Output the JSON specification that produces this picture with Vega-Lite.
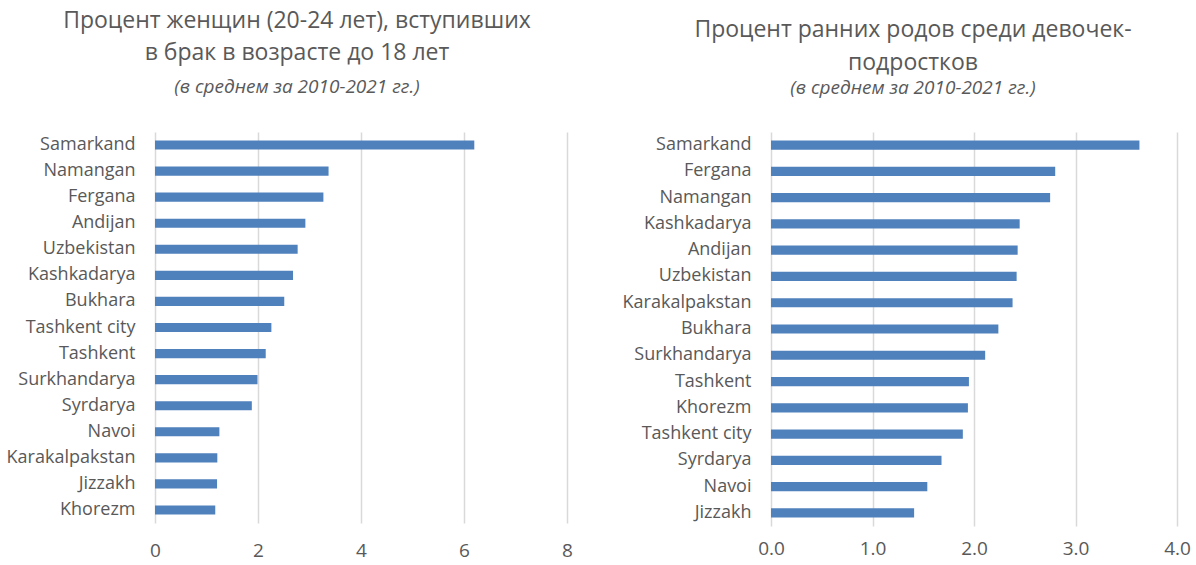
{
  "$schema": "https://vega.github.io/schema/vega-lite/v6.json",
  "padding": {"left": 6, "top": 10, "right": 4, "bottom": 0},
  "background": "white",
  "spacing": 204,
  "bounds": "flush",
  "config": {
    "font": "Open Sans",
    "view": {"stroke": null},
    "axis": {"labelColor": "#595959", "titleColor": "#595959"},
    "title": {"color": "#595959", "subtitleColor": "#595959"}
  },
  "datasets": {
    "marriage": [
      {"region": "Samarkand", "value": 6.20},
      {"region": "Namangan", "value": 3.37},
      {"region": "Fergana", "value": 3.27},
      {"region": "Andijan", "value": 2.92},
      {"region": "Uzbekistan", "value": 2.77},
      {"region": "Kashkadarya", "value": 2.68},
      {"region": "Bukhara", "value": 2.51},
      {"region": "Tashkent city", "value": 2.26},
      {"region": "Tashkent ", "value": 2.15},
      {"region": "Surkhandarya", "value": 1.99},
      {"region": "Syrdarya", "value": 1.88},
      {"region": "Navoi", "value": 1.25},
      {"region": "Karakalpakstan", "value": 1.21},
      {"region": "Jizzakh", "value": 1.205},
      {"region": "Khorezm", "value": 1.17}
    ],
    "births": [
      {"region": "Samarkand", "value": 3.63},
      {"region": "Fergana", "value": 2.80},
      {"region": "Namangan", "value": 2.75},
      {"region": "Kashkadarya", "value": 2.45},
      {"region": "Andijan", "value": 2.43},
      {"region": "Uzbekistan", "value": 2.42},
      {"region": "Karakalpakstan", "value": 2.38},
      {"region": "Bukhara", "value": 2.24},
      {"region": "Surkhandarya", "value": 2.11},
      {"region": "Tashkent ", "value": 1.95},
      {"region": "Khorezm", "value": 1.94},
      {"region": "Tashkent city", "value": 1.89},
      {"region": "Syrdarya", "value": 1.68},
      {"region": "Navoi", "value": 1.54},
      {"region": "Jizzakh", "value": 1.41}
    ]
  },
  "hconcat": [
    {
      "data": {"name": "marriage"},
      "width": 412,
      "height": 391,
      "title": {
        "text": ["Процент женщин (20-24 лет), вступивших", "в брак в возрасте до 18 лет"],
        "subtitle": "(в среднем за 2010-2021 гг.)",
        "fontSize": 23,
        "fontWeight": "normal",
        "lineHeight": 32,
        "subtitleFontSize": 19,
        "subtitleFontStyle": "italic",
        "subtitlePadding": 13,
        "offset": 35,
        "dx": -64,
        "anchor": "middle"
      },
      "mark": {"type": "bar", "color": "#4f81bd", "height": {"band": 0.35}},
      "encoding": {
        "y": {
          "field": "region", "type": "nominal", "sort": null,
          "scale": {"paddingInner": 0, "paddingOuter": 0},
          "axis": {"title": null, "ticks": false, "domain": false, "labelFontSize": 18, "labelPadding": 20}
        },
        "x": {
          "field": "value", "type": "quantitative",
          "scale": {"domain": [0, 8], "nice": false},
          "axis": {"title": null, "values": [0, 2, 4, 6, 8], "grid": true, "gridColor": "#d9d9d9", "gridWidth": 1.5, "ticks": false, "domain": false, "labelFontSize": 19, "labelPadding": 18, "labelFlush": false}
        }
      }
    },
    {
      "data": {"name": "births"},
      "width": 406,
      "height": 394,
      "title": {
        "text": ["Процент ранних родов среди девочек-", "подростков"],
        "subtitle": "(в среднем за 2010-2021 гг.)",
        "fontSize": 23,
        "fontWeight": "normal",
        "lineHeight": 33,
        "subtitleFontSize": 19,
        "subtitleFontStyle": "italic",
        "subtitlePadding": 4,
        "offset": 34,
        "dx": -61,
        "anchor": "middle"
      },
      "mark": {"type": "bar", "color": "#4f81bd", "height": {"band": 0.35}},
      "encoding": {
        "y": {
          "field": "region", "type": "nominal", "sort": null,
          "scale": {"paddingInner": 0, "paddingOuter": 0},
          "axis": {"title": null, "ticks": false, "domain": false, "labelFontSize": 18, "labelPadding": 20}
        },
        "x": {
          "field": "value", "type": "quantitative",
          "scale": {"domain": [0, 4], "nice": false},
          "axis": {"title": null, "values": [0, 1, 2, 3, 4], "format": ".1f", "grid": true, "gridColor": "#d9d9d9", "gridWidth": 1.5, "ticks": false, "domain": false, "labelFontSize": 19, "labelPadding": 13, "labelFlush": false}
        }
      }
    }
  ]
}
